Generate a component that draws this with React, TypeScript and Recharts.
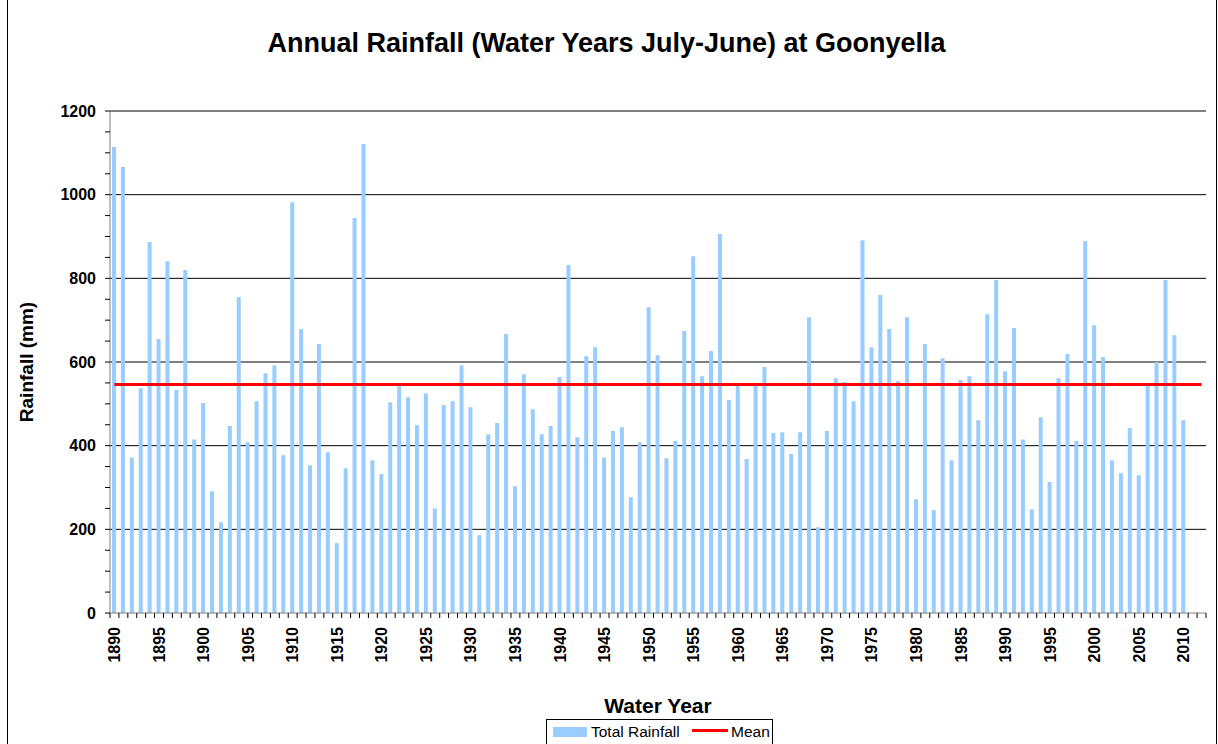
import React from "react";
import {
  ComposedChart,
  Bar,
  Line,
  XAxis,
  YAxis,
  CartesianGrid,
} from "recharts";

// water years 1890 .. 2012 (last two have no data yet)
const years: number[] = Array.from({ length: 123 }, (_, i) => 1890 + i);

const rainfall: (number | null)[] = [
  1114, 1066, 372, 537, 887, 655, 841, 533, 820, 415,
  502, 291, 217, 447, 755, 408, 506, 573, 592, 377,
  982, 679, 353, 643, 384, 167, 346, 944, 1121, 365,
  332, 504, 542, 516, 449, 525, 250, 497, 506, 592,
  492, 186, 427, 454, 667, 303, 571, 487, 427, 447,
  564, 832, 420, 614, 635, 372, 435, 444, 277, 408,
  731, 616, 370, 411, 674, 853, 566, 626, 906, 509,
  545, 368, 545, 588, 430, 432, 380, 432, 707, 205,
  435, 561, 552, 506, 891, 635, 760, 679, 554, 707,
  272, 643, 246, 609, 365, 557, 566, 461, 714, 796,
  578, 681, 415, 248, 468, 313, 561, 619, 411, 889,
  688, 612, 365, 334, 442, 329, 545, 600, 796, 664,
  461, null, null,
];

const MEAN = 546;

const yTicks = [
  0, 50, 100, 150, 200, 250, 300, 350, 400, 450, 500, 550, 600,
  650, 700, 750, 800, 850, 900, 950, 1000, 1050, 1100, 1150, 1200,
];
const gridValues = [200, 400, 600, 800, 1000, 1200];

const data = years.map((year, i) => ({
  year,
  total: rainfall[i],
  mean: MEAN,
}));

const FONT = "'Liberation Sans', Arial, sans-serif";
const W = 1218;
const H = 744;
const PLOT_LEFT = 110;
const PLOT_RIGHT = 1206;
const PLOT_TOP = 111;
const PLOT_BOTTOM = 613;
const X_AXIS_H = 105;
const BAND = (PLOT_RIGHT - PLOT_LEFT) / years.length;

const YearTick = (props: any) => {
  const { x, index, payload } = props;
  const left = x - BAND / 2;
  const labelY = PLOT_BOTTOM + 14;
  return (
    <g>
      <line x1={left} x2={left} y1={PLOT_BOTTOM} y2={PLOT_BOTTOM + 5} stroke="#000" />
      {index === years.length - 1 && (
        <line
          x1={x + BAND / 2}
          x2={x + BAND / 2}
          y1={PLOT_BOTTOM}
          y2={PLOT_BOTTOM + 5}
          stroke="#000"
        />
      )}
      {payload.value % 5 === 0 && (
        <text
          x={x}
          y={labelY}
          dy="0.35em"
          textAnchor="end"
          transform={`rotate(-90, ${x}, ${labelY})`}
          fontFamily={FONT}
          fontSize={16}
          fontWeight="bold"
          fill="#000"
        >
          {payload.value}
        </text>
      )}
    </g>
  );
};

export default function App() {
  return (
    <div
      style={{
        position: "absolute",
        left: 0,
        top: 0,
        width: W,
        height: H,
        overflow: "hidden",
        background: "#fff",
        fontFamily: FONT,
      }}
    >
      <div style={{ position: "absolute", left: 7, top: 0, width: 1, height: H, background: "#000" }} />
      <div style={{ position: "absolute", left: 1216, top: 0, width: 1, height: H, background: "#000" }} />

      <div
        style={{
          position: "absolute",
          left: 0,
          top: 30,
          width: 1213,
          textAlign: "center",
          fontSize: 27,
          lineHeight: "27px",
          fontWeight: "bold",
          color: "#000",
        }}
      >
        Annual Rainfall (Water Years July-June) at Goonyella
      </div>

      <ComposedChart
        width={W}
        height={H}
        data={data}
        margin={{
          top: PLOT_TOP,
          right: W - PLOT_RIGHT,
          left: 10,
          bottom: H - PLOT_BOTTOM - X_AXIS_H,
        }}
        barCategoryGap={0}
      >
        <CartesianGrid
          vertical={false}
          horizontalValues={gridValues}
          stroke="#000"
          strokeWidth={1}
        />
        <XAxis
          dataKey="year"
          type="category"
          interval={0}
          height={X_AXIS_H}
          tickLine={false}
          axisLine={{ stroke: "#808080" }}
          tick={<YearTick />}
          label={{
            value: "Water Year",
            position: "insideBottom",
            offset: 5,
            fill: "#000",
            fontSize: 21,
            fontWeight: "bold",
            fontFamily: FONT,
          }}
        />
        <YAxis
          width={100}
          domain={[0, 1200]}
          ticks={yTicks}
          interval={0}
          tickSize={5}
          tickMargin={9}
          tickFormatter={(v: number) => (v % 200 === 0 ? String(v) : "")}
          axisLine={{ stroke: "#808080" }}
          tickLine={{ stroke: "#000" }}
          tick={{ fill: "#000", fontSize: 16, fontWeight: "bold", fontFamily: FONT }}
          label={{
            value: "Rainfall (mm)",
            angle: -90,
            position: "insideLeft",
            offset: 16,
            fill: "#000",
            fontSize: 19,
            fontWeight: "bold",
            fontFamily: FONT,
            style: { textAnchor: "middle" },
          }}
        />
        <Bar dataKey="total" name="Total Rainfall" fill="#99CCFF" barSize={4} isAnimationActive={false} />
        <Line
          dataKey="mean"
          name="Mean"
          stroke="#FF0000"
          strokeWidth={3}
          dot={false}
          activeDot={false}
          isAnimationActive={false}
        />
      </ComposedChart>

      <div
        style={{
          position: "absolute",
          left: 546,
          top: 719,
          width: 227,
          height: 30,
          border: "1px solid #000",
          boxSizing: "border-box",
        }}
      />
      <div style={{ position: "absolute", left: 553, top: 727, width: 34, height: 10, background: "#99CCFF" }} />
      <div style={{ position: "absolute", left: 591, top: 724, fontSize: 15.5, lineHeight: "15px", color: "#000" }}>
        Total Rainfall
      </div>
      <div style={{ position: "absolute", left: 692, top: 729, width: 36, height: 3, background: "#FF0000" }} />
      <div style={{ position: "absolute", left: 731, top: 724, fontSize: 15.5, lineHeight: "15px", color: "#000" }}>
        Mean
      </div>
    </div>
  );
}
